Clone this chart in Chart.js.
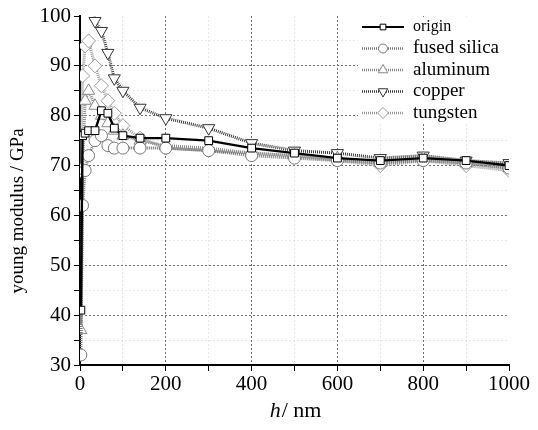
<!DOCTYPE html>
<html>
<head>
<meta charset="utf-8">
<script src="https://cdn.jsdelivr.net/npm/chart.js@4.4.1/dist/chart.umd.min.js"></script>
<style>
  html, body { margin:0; padding:0; background:#fff; }
  #wrap { width:538px; height:430px; position:relative; }
</style>
</head>
<body>
<div id="wrap"><canvas id="c"></canvas></div>
<script>
// ===== data =====
const H = [2, 6, 12, 20, 35, 50, 65, 80, 100, 140, 200, 300, 400, 500, 600, 700, 800, 900, 1000];
const ORIGIN   = [41, 76, 76.5, 77, 77, 81, 80.5, 77.5, 76, 75.5, 75.5, 75, 73.5, 72.5, 71.5, 71, 71.5, 71, 70];
const SILICA   = [32, 62, 69, 72, 75, 76, 74, 73.5, 73.5, 73.5, 73.5, 73, 72, 71.5, 71, 70.5, 71, 70.5, 69.5];
const ALUMINUM = [37, 69, 83, 85, 82, 80, 78.5, 77, 76, 75, 74, 73.5, 72.5, 72, 71.5, 70.5, 71.5, 70.5, 69.5];
const COPPER   = [135, 125, 115, 105, 99, 97, 92.6, 87.5, 85, 81.6, 79.5, 77.5, 74.5, 73, 72.5, 71.5, 72, 71, 70.5];
const TUNGSTEN = [69, 88, 94, 95, 90, 86, 83, 80.5, 78, 75.5, 73.5, 73, 72.5, 72, 71, 70, 71, 70, 69];
const X_LABELS = [0, 200, 400, 600, 800, 1000];
const Y_LABELS = [30, 40, 50, 60, 70, 80, 90, 100];

const SERIF = '"Liberation Serif", "DejaVu Serif", serif';
const pts = ys => H.map((h, i) => ({ x:h, y:ys[i] }));

const SERIES = [
  { label:'origin',       data:ORIGIN,   line:'#000',    width:2.4, dash:[],    mark:'rect',     rot:0,   edge:'#000', size:5.5 },
  { label:'fused silica', data:SILICA,   line:'#777',    width:3,   dash:[1,1], mark:'circle',   rot:0,   edge:'#777', size:6 },
  { label:'aluminum',     data:ALUMINUM, line:'#888',    width:3,   dash:[1,1], mark:'triangle', rot:0,   edge:'#888', size:7 },
  { label:'copper',       data:COPPER,   line:'#3a3a3a', width:3,   dash:[1,1], mark:'triangle', rot:180, edge:'#333', size:7 },
  { label:'tungsten',     data:TUNGSTEN, line:'#999',    width:3,   dash:[1,1], mark:'rectRot',  rot:0,   edge:'#999', size:7 },
];

// legend drawn with the dataset styles
const legendPlugin = {
  id:'legendBox',
  afterDraw(chart){
    const ctx = chart.ctx;
    chart.data.datasets.forEach((ds, i) => {
      const y = 27 + i * 21.5;
      ctx.save();
      ctx.fillStyle = '#fff';
      ctx.fillRect(358, y - 10, 150, 21);
      ctx.strokeStyle = ds.borderColor; ctx.lineWidth = i === 0 ? 2 : 2.4;
      ctx.setLineDash(ds.borderDash);
      ctx.beginPath(); ctx.moveTo(362, y); ctx.lineTo(404, y); ctx.stroke();
      ctx.setLineDash([]);
      ctx.fillStyle = '#fff'; ctx.strokeStyle = ds.pointBorderColor; ctx.lineWidth = 1;
      Chart.helpers.drawPoint(ctx, { pointStyle:ds.pointStyle, rotation:ds.pointRotation, radius:ds.pointRadius - 1.5, borderWidth:1 }, 383, y);
      ctx.fillStyle = '#000';
      ctx.font = (i === 0 ? '16px ' : '19px ') + SERIF;
      ctx.textBaseline = 'middle';
      ctx.fillText(ds.label, 413, y);
      ctx.restore();
    });
  }
};

// axis titles (italic h on x)
const titlesPlugin = {
  id:'titles',
  afterDraw(chart){
    const ctx = chart.ctx;
    ctx.save();
    ctx.fillStyle = '#000'; ctx.textBaseline = 'alphabetic';
    ctx.font = 'italic 22px ' + SERIF;
    const w1 = ctx.measureText('h').width;
    ctx.font = '22px ' + SERIF;
    const w2 = ctx.measureText('/ nm').width;
    const x0 = 295 - (w1 + w2) / 2;
    ctx.font = 'italic 22px ' + SERIF; ctx.fillText('h', x0, 417);
    ctx.font = '22px ' + SERIF; ctx.fillText('/ nm', x0 + w1 + 1, 417);
    ctx.translate(18, 211);
    ctx.rotate(-Math.PI / 2);
    ctx.textAlign = 'center'; ctx.textBaseline = 'middle';
    ctx.font = '19px ' + SERIF;
    ctx.fillText('young modulus / GPa', 0, 0);
    ctx.restore();
  }
};

// major lines dotted grey, minor ones faint; no line at the far ends
const gridCol = major => c => {
  const n = c.scale.ticks.length;
  if (c.index === 0 || c.index === n - 1) return 'rgba(0,0,0,0)';
  return c.tick.value % major === 0 ? '#6e6e6e' : 'rgba(0,0,0,0.09)';
};

new Chart(document.getElementById('c'), {
  type:'scatter',
  data:{
    datasets: SERIES.map(s => ({
      label:s.label, data:pts(s.data), showLine:true,
      borderColor:s.line, borderWidth:s.width, borderDash:s.dash,
      pointStyle:s.mark, pointRotation:s.rot, pointRadius:s.size,
      pointBackgroundColor:'#fff', pointBorderColor:s.edge, pointBorderWidth:1,
      tension:0
    }))
  },
  options:{
    responsive:true, maintainAspectRatio:false, animation:false,
    layout:{ padding:{ left:0, top:16, right:29, bottom:0 } },
    plugins:{ legend:{ display:false }, tooltip:{ enabled:false } },
    scales:{
      x:{
        type:'linear', min:0, max:1000,
        afterFit: s => { s.height = 65; },
        ticks:{ stepSize:100, autoSkip:false, maxRotation:0, color:'#000', font:{ family:SERIF, size:21 }, padding:1,
          callback: v => X_LABELS.includes(v) ? v : '' },
        grid:{ color:gridCol(200), tickColor:'#000', tickLength:6, lineWidth:1 },
        border:{ color:'#000', width:2, dash:[2,2] }
      },
      y:{
        min:30, max:100,
        afterFit: s => { s.width = 80; },
        ticks:{ stepSize:5, autoSkip:false, color:'#000', font:{ family:SERIF, size:21 }, padding:3,
          callback: v => Y_LABELS.includes(v) ? v : '' },
        grid:{ color:gridCol(10), tickColor:'#000', tickLength:6, lineWidth:1 },
        border:{ color:'#000', width:2, dash:[2,2] }
      }
    }
  },
  plugins:[legendPlugin, titlesPlugin]
});
</script>
</body>
</html>
